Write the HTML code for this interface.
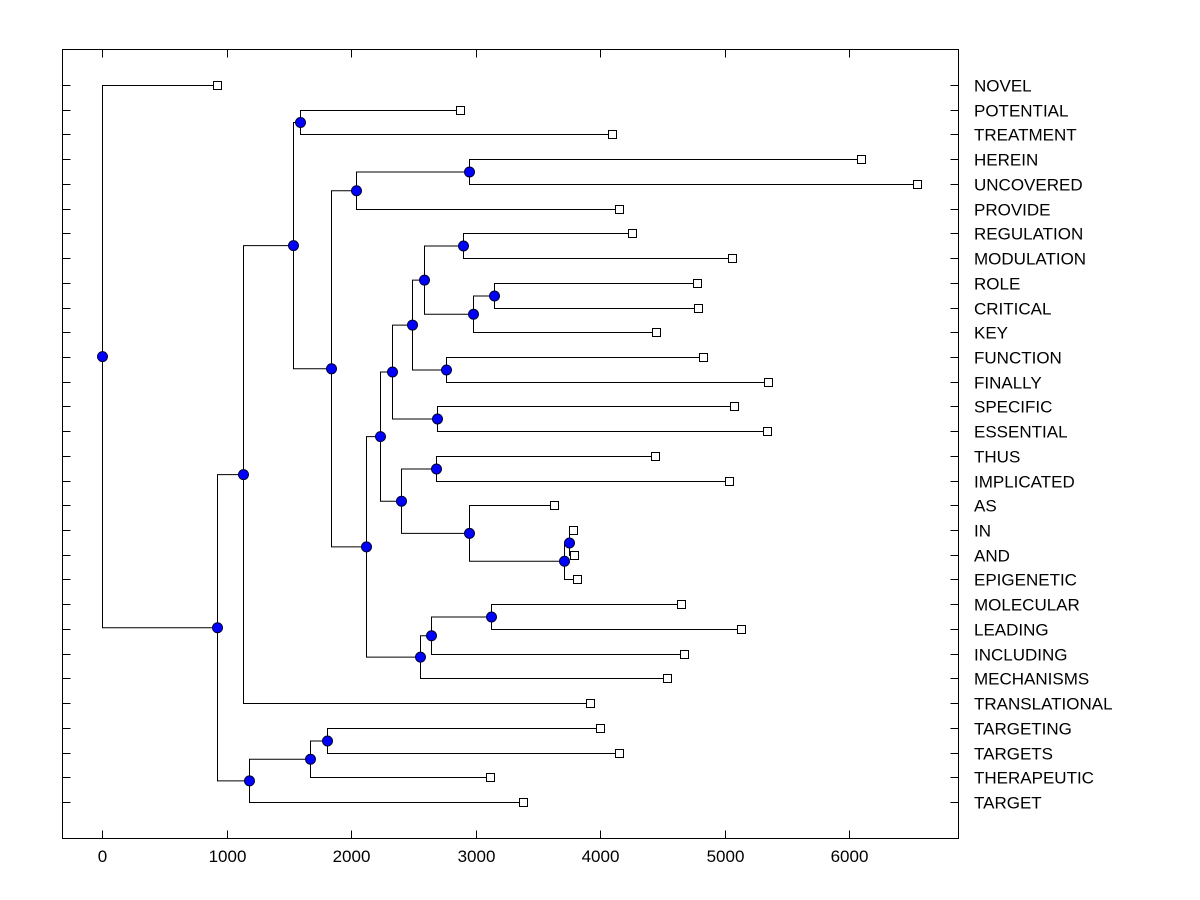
<!DOCTYPE html>
<html><head><meta charset="utf-8"><style>body{margin:0;background:#fff}svg{display:block}text{font-family:"Liberation Sans",Arial,sans-serif;font-size:17px}</style></head>
<body>
<svg id="c" width="1200" height="900" xmlns="http://www.w3.org/2000/svg"></svg>
<script>
const leafLabels=["NOVEL","POTENTIAL","TREATMENT","HEREIN","UNCOVERED","PROVIDE","REGULATION","MODULATION","ROLE","CRITICAL","KEY","FUNCTION","FINALLY","SPECIFIC","ESSENTIAL","THUS","IMPLICATED","AS","IN","AND","EPIGENETIC","MOLECULAR","LEADING","INCLUDING","MECHANISMS","TRANSLATIONAL","TARGETING","TARGETS","THERAPEUTIC","TARGET"];
const leafValues=[924,2875,4096,6096,6546,4153,4257,5060,4779,4787,4450,4827,5349,5076,5341,4442,5036,3631,3783,3791,3815,4651,5133,4675,4538,3920,4000,4153,3116,3382];
// internal nodes: [name, value, childA, childB]; children are leaf labels or node names
const nodeNames=["root","A","B","C","D","E","F","G","H","I","K","J","L","N","P","R","T","U","V","S","Q","O","W","X","Y","Z","M","AA","AB"];
const nodeValues=[0,924,1133,1181,1671,1807,1534,1590,1839,2040,2948,2120,2233,2329,2490,2586,2900,2980,3149,2763,2691,2402,2683,2948,3711,3751,2554,2643,3124];
const nodeChildren=[["NOVEL","A"],["B","C"],["F","TRANSLATIONAL"],["D","TARGET"],["E","THERAPEUTIC"],["TARGETING","TARGETS"],["G","H"],["POTENTIAL","TREATMENT"],["I","J"],["K","PROVIDE"],["HEREIN","UNCOVERED"],["L","M"],["N","O"],["P","Q"],["R","S"],["T","U"],["REGULATION","MODULATION"],["V","KEY"],["ROLE","CRITICAL"],["FUNCTION","FINALLY"],["SPECIFIC","ESSENTIAL"],["W","X"],["THUS","IMPLICATED"],["AS","Y"],["Z","EPIGENETIC"],["IN","AND"],["AA","MECHANISMS"],["AB","INCLUDING"],["MOLECULAR","LEADING"]];
const xTicks=[0,1000,2000,3000,4000,5000,6000];

const svg=document.getElementById('c');const NS='http://www.w3.org/2000/svg';
const L=62.5,R=958.5,T=49.5,B=838.5;
const xs=v=>Math.round(102+v*0.1245)+0.5;
const ys=i=>Math.round(85+i*(802-85)/29)+0.5;
function mk(tag,at,name,parent){const e=document.createElementNS(NS,tag);for(const k in at)e.setAttribute(k,at[k]);


(parent||svg).appendChild(e);return e;}
mk('rect',{x:L,y:T,width:R-L,height:B-T,fill:'none',stroke:'#000','stroke-width':1},'plot-frame');
xTicks.forEach(t=>{const x=xs(t);
mk('line',{x1:x,y1:B,x2:x,y2:B-8,stroke:'#000'},'x-tick-bottom');
mk('line',{x1:x,y1:T,x2:x,y2:T+8,stroke:'#000'},'x-tick-top');
const tx=mk('text',{x:x,y:862,'text-anchor':'middle'},'x-tick-label');tx.textContent=t;});
const pos={};
leafLabels.forEach((l,i)=>{pos[l]={x:xs(leafValues[i]),y:ys(i)};
mk('line',{x1:L,y1:ys(i),x2:L+8,y2:ys(i),stroke:'#000'},'y-tick-left');
mk('line',{x1:R,y1:ys(i),x2:R-8,y2:ys(i),stroke:'#000'},'y-tick-right');
const tx=mk('text',{x:974,y:ys(i)+6},'leaf-label');tx.textContent=l;});
function resolve(n){if(pos[n])return pos[n];const i=nodeNames.indexOf(n);const a=resolve(nodeChildren[i][0]),b=resolve(nodeChildren[i][1]);
pos[n]={x:xs(nodeValues[i]),y:(a.y+b.y)/2};return pos[n];}
resolve("root");
const g1=mk('g',{stroke:'#000','stroke-width':1,fill:'none'},'branches');
nodeNames.forEach((n,i)=>{const p=pos[n];const a=pos[nodeChildren[i][0]],b=pos[nodeChildren[i][1]];
mk('path',{d:`M${a.x},${a.y}H${p.x}V${b.y}H${b.x}`},'branch',g1);});
leafLabels.forEach(l=>{const p=pos[l];mk('rect',{x:p.x-4,y:p.y-4,width:8,height:8,fill:'#fff',stroke:'#000'},'leaf-marker');});
nodeNames.forEach(n=>{const p=pos[n];mk('circle',{cx:p.x,cy:p.y,r:5,fill:'#0000ff',stroke:'#000033','stroke-width':1},'node-marker');});
</script>
</body></html>
